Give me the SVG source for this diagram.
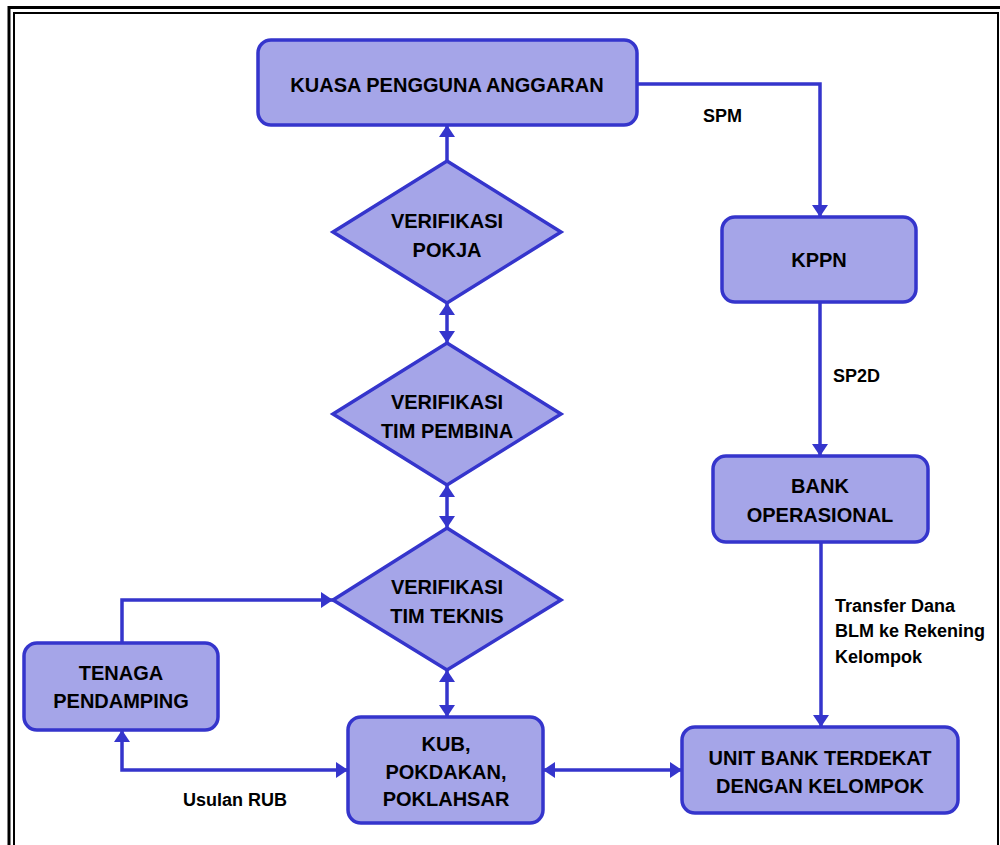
<svg xmlns="http://www.w3.org/2000/svg" width="1000" height="845" viewBox="0 0 1000 845">
<style>
.node{fill:#A5A5E8;stroke:#3535CC;stroke-width:3.5}
.t{font-family:"Liberation Sans",Arial,sans-serif;font-weight:bold;font-size:20px;fill:#000;text-anchor:middle}
.lbl{font-family:"Liberation Sans",Arial,sans-serif;font-weight:bold;font-size:18px;fill:#000}
.c{fill:none;stroke:#3535CC;stroke-width:3.5}
</style>
<defs>
<marker id="ah" viewBox="0 0 12 16" refX="12" refY="8" markerWidth="12" markerHeight="16" markerUnits="userSpaceOnUse" orient="auto-start-reverse">
<path d="M0,0 L12,8 L0,16 z" fill="#3535CC"/>
</marker>
</defs>
<rect width="1000" height="845" fill="#fff"/>
<g id="frame">
<rect x="9" y="7.5" width="1000" height="850" fill="none" stroke="#000" stroke-width="3"/>
<rect x="14" y="13" width="984" height="850" fill="none" stroke="#000" stroke-width="2"/>
</g>
<g id="connectors">
<path class="c" d="M637,84 H820 V217" marker-end="url(#ah)"/>
<path class="c" d="M820,302 V456" marker-end="url(#ah)"/>
<path class="c" d="M821,542 V727" marker-end="url(#ah)"/>
<path class="c" d="M543,770 H682" marker-start="url(#ah)" marker-end="url(#ah)"/>
<path class="c" d="M447,161 V125" marker-end="url(#ah)"/>
<path class="c" d="M447,303 V343" marker-start="url(#ah)" marker-end="url(#ah)"/>
<path class="c" d="M447,485 V528" marker-start="url(#ah)" marker-end="url(#ah)"/>
<path class="c" d="M447,670 V717" marker-start="url(#ah)" marker-end="url(#ah)"/>
<path class="c" d="M122,643 V600 H333" marker-end="url(#ah)"/>
<path class="c" d="M122,730 V770 H348" marker-start="url(#ah)" marker-end="url(#ah)"/>
<text class="lbl" x="703" y="122">SPM</text>
<text class="lbl" x="833" y="382">SP2D</text>
<text class="lbl" x="835" y="612">Transfer Dana</text>
<text class="lbl" x="835" y="637">BLM ke Rekening</text>
<text class="lbl" x="835" y="663">Kelompok</text>
<text class="lbl" x="183" y="806">Usulan RUB</text>
</g>
<g id="kpa">
<rect class="node" x="258" y="40" width="379" height="85" rx="13"/>
<text class="t" x="447" y="92">KUASA PENGGUNA ANGGARAN</text>
</g>
<g id="kppn">
<rect class="node" x="722" y="217" width="194" height="85" rx="13"/>
<text class="t" x="819" y="267">KPPN</text>
</g>
<g id="bank">
<rect class="node" x="713" y="456" width="215" height="86" rx="13"/>
<text class="t" x="820" y="493">BANK</text>
<text class="t" x="820" y="522">OPERASIONAL</text>
</g>
<g id="unit">
<rect class="node" x="682" y="727" width="276" height="86" rx="13"/>
<text class="t" x="820" y="765">UNIT BANK TERDEKAT</text>
<text class="t" x="820" y="793">DENGAN KELOMPOK</text>
</g>
<g id="pokja">
<polygon class="node" points="447,161 561,232 447,303 333,232"/>
<text class="t" x="447" y="228">VERIFIKASI</text>
<text class="t" x="447" y="257">POKJA</text>
</g>
<g id="pembina">
<polygon class="node" points="447,343 561,414 447,485 333,414"/>
<text class="t" x="447" y="409">VERIFIKASI</text>
<text class="t" x="447" y="438">TIM PEMBINA</text>
</g>
<g id="teknis">
<polygon class="node" points="447,528 561,600 447,670 333,600"/>
<text class="t" x="447" y="594">VERIFIKASI</text>
<text class="t" x="447" y="623">TIM TEKNIS</text>
</g>
<g id="tenaga">
<rect class="node" x="24" y="643" width="194" height="87" rx="13"/>
<text class="t" x="121" y="680">TENAGA</text>
<text class="t" x="121" y="708">PENDAMPING</text>
</g>
<g id="kub">
<rect class="node" x="348" y="717" width="195" height="106" rx="13"/>
<text class="t" x="446" y="751">KUB,</text>
<text class="t" x="446" y="779">POKDAKAN,</text>
<text class="t" x="446" y="806">POKLAHSAR</text>
</g>
</svg>
